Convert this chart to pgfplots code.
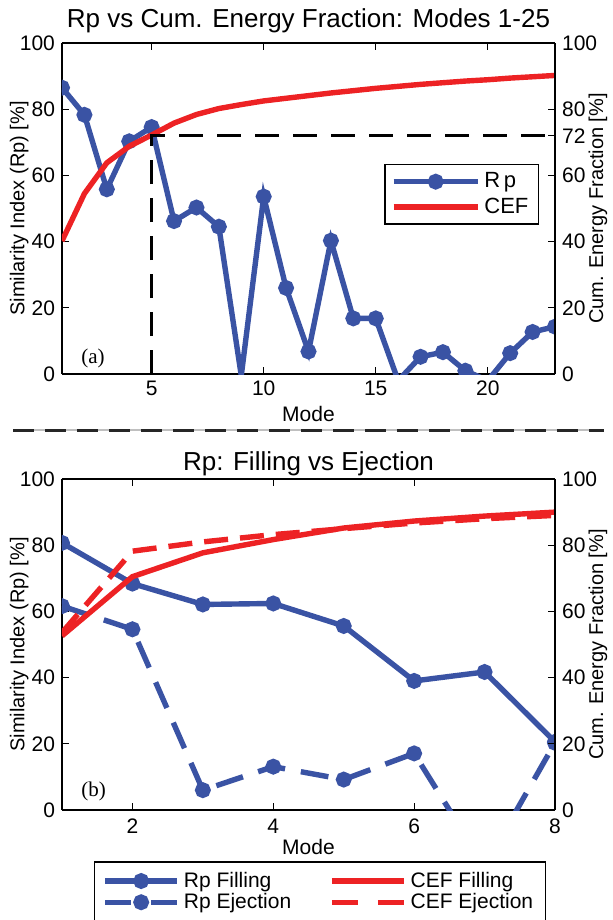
\documentclass[border=0pt]{standalone}
\usepackage{fontspec}
\setmainfont{Liberation Sans}
\newfontfamily\panelfont{Liberation Serif}
\usepackage{pgfplots}
\pgfplotsset{compat=1.18}
\definecolor{rpBlue}{HTML}{3A53A4}
\definecolor{cefRed}{HTML}{ED2224}

\pgfplotsset{
  panel/.style={
    scale only axis, width=246.5pt, height=165.5pt,
    xmin=1, ymin=0, ymax=100,
    tick align=inside, major tick length=3.5pt,
    every tick/.style={black, line width=0.6pt},
    axis line style={black, line width=0.7pt},
    tick label style={font=\fontsize{10.5}{12}\selectfont},
    label style={font=\fontsize{10.5}{12}\selectfont},
    title style={font=\fontsize{13}{15}\selectfont, yshift=-4.5pt},
    /pgf/number format/assume math mode=true,
    clip marker paths=true,
  },
  leftlab/.style={every axis y label/.style={at={(axis description cs:-0.087,0.5)},
    rotate=90, anchor=center}},
  rightlab/.style={every axis y label/.style={at={(axis description cs:1.087,0.5)},
    rotate=90, anchor=center}},
  rp/.style={rpBlue, line width=2.7pt, mark=*, mark size=2.6pt, mark options={solid}},
  cef/.style={cefRed, line width=2.7pt, no marks},
}

\begin{document}
\begin{tikzpicture}
\path[use as bounding box] (0,0) rectangle (306.5pt,-460pt);

% (a) modes 1-23
\begin{axis}[panel, leftlab, at={(31pt,-21.5pt)}, anchor=north west,
  xmax=23, xtick={5,10,15,20}, ytick={0,20,...,100},
  axis y line*=left,
  xlabel={Mode}, ylabel={Similarity Index (Rp) [\%]},
  xlabel style={yshift=1.5pt},
  title={Rp vs Cum. Energy Fraction: Modes 1-25},
  legend style={at={(1,1)}, anchor=north east, xshift=-8pt, yshift=-60.5pt,
    draw=black, line width=0.6pt, font=\fontsize{11}{12}\selectfont, row sep=-0.5pt},
  legend cell align=left]
\addplot[rp, legend image code/.code={\draw[mark repeat=2,mark phase=2] plot coordinates {(0pt,0pt) (21pt,0pt) (42pt,0pt)};}]
  coordinates {(1,86.5)(2,78.3)(3,55.8)(4,70.3)(5,74.6)(6,46.2)(7,50.3)(8,44.5)
  (9,-0.5)(10,53.6)(11,26)(12,6.8)(13,40.3)(14,16.8)(15,16.8)(16,-2)(17,5.2)
  (18,6.6)(19,1.0)(20,-2)(21,6.3)(22,12.7)(23,14.3)};
\addlegendentry{R\,p}
\addplot[cef, legend image code/.code={\draw plot coordinates {(0pt,0pt) (42pt,0pt)};}]
  coordinates {(1,40.2)(2,54.5)(3,63.8)(4,68.8)(5,72.2)(6,75.8)(7,78.4)(8,80.2)
  (9,81.4)(10,82.5)(11,83.3)(12,84.1)(13,84.9)(14,85.6)(15,86.3)(16,86.9)
  (17,87.5)(18,88.0)(19,88.5)(20,88.9)(21,89.4)(22,89.8)(23,90.2)};
\addlegendentry{CEF}
\addplot[black, line width=1.2pt, dash pattern=on 12pt off 7pt, forget plot]
  coordinates {(5,0)(5,72)(23,72)};
\node[anchor=base west, font=\panelfont\fontsize{10.5}{12}\selectfont] at (rel axis cs:0.025,0.033) {(a)};
\end{axis}
\begin{axis}[panel, rightlab, at={(31pt,-21.5pt)}, anchor=north west,
  xmax=23, axis y line*=right, axis x line=none,
  ytick={0,20,40,60,72,80,100},
  ylabel={Cum. Energy Fraction [\%]}]
\addplot[draw=none, forget plot] coordinates {(1,0)};
\end{axis}

% separator
\draw[black!25, line width=1.2pt] (6.5pt,-215pt) -- (302pt,-215pt);
\draw[black!85, line width=1.5pt, dash pattern=on 10.5pt off 5.5pt] (6.5pt,-215pt) -- (302pt,-215pt);

% (b) filling vs ejection
\begin{axis}[panel, leftlab, at={(31pt,-239.5pt)}, anchor=north west,
  xmax=8, xtick={2,4,6,8}, ytick={0,20,...,100},
  axis y line*=left,
  xlabel={Mode}, ylabel={Similarity Index (Rp) [\%]},
  title={Rp: Filling vs Ejection}, title style={yshift=-3.5pt},
  xticklabel style={yshift=-1pt}, xlabel style={yshift=4pt},
  legend columns=2, transpose legend,
  legend style={at={(0.523,-0.155)}, anchor=north, draw=black, line width=0.6pt,
    font=\fontsize{10.5}{12}\selectfont, row sep=-2.5pt, inner xsep=4pt, inner ysep=3pt,
    /tikz/every even column/.append style={column sep=17pt}},
  legend cell align=left]
\addplot[rp, legend image code/.code={\draw[mark repeat=2,mark phase=2] plot coordinates {(0pt,0pt) (18pt,0pt) (36pt,0pt)};}]
  coordinates {(1,80.7)(2,68.4)(3,62.1)(4,62.4)(5,55.6)(6,39)(7,41.7)(8,20.6)};
\addlegendentry{Rp Filling}
\addplot[rp, dash pattern=on 14pt off 8pt, legend image code/.code={\draw[mark repeat=2,mark phase=2,dash pattern=on 13pt off 10pt] plot coordinates {(0pt,0pt) (18pt,0pt) (36pt,0pt)};}]
  coordinates {(1,61.6)(2,54.6)(3,6)(4,13.1)(5,9.2)(6,17.1)(7,-17)(8,20.3)};
\addlegendentry{Rp Ejection}
\addplot[cef, legend image code/.code={\draw plot coordinates {(0pt,0pt) (36pt,0pt)};}]
  coordinates {(1,52.6)(2,70.5)(3,77.7)(4,81.7)(5,85.2)(6,87.3)(7,88.8)(8,90)};
\addlegendentry{CEF Filling}
\addplot[cef, dash pattern=on 12pt off 6pt, legend image code/.code={\draw[dash pattern=on 13pt off 10pt] plot coordinates {(0pt,0pt) (36pt,0pt)};}]
  coordinates {(1,53.6)(2,78.2)(3,81)(4,83.2)(5,85)(6,86.7)(7,88)(8,89)};
\addlegendentry{CEF Ejection}
\node[anchor=base west, font=\panelfont\fontsize{10.5}{12}\selectfont] at (rel axis cs:0.025,0.04) {(b)};
\end{axis}
\begin{axis}[panel, rightlab, at={(31pt,-239.5pt)}, anchor=north west,
  xmax=8, axis y line*=right, axis x line=none,
  ytick={0,20,...,100},
  ylabel={Cum. Energy Fraction [\%]}]
\addplot[draw=none, forget plot] coordinates {(1,0)};
\end{axis}
\end{tikzpicture}
\end{document}
